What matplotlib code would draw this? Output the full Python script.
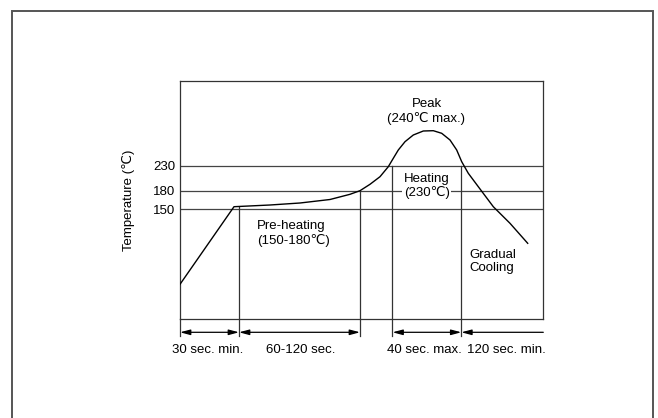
import matplotlib

matplotlib.use("Agg")
import matplotlib.pyplot as plt
from matplotlib.patches import Rectangle

plt.rcParams["font.family"] = ["Liberation Sans", "DejaVu Sans"]

# schematic reflow profile (arbitrary time / height units)
profile_t = [0, 54, 90, 120, 150, 170, 180, 190, 200, 208.3, 213.3, 218.3, 225,
             233.3, 243.3, 253.3, 261.7, 270, 276.7, 281.7, 288.3, 298.3, 313.3,
             330, 347.7]
profile_h = [35, 112.6, 114.3, 116.3, 119.8, 125, 128.6, 135, 142.6, 152.6, 161,
             169.3, 177.6, 184.3, 188.3, 188.6, 186, 179.3, 169.3, 157.6, 146,
             132.6, 112.6, 96, 76]

level_pos = [110.3, 128.6, 153.6]
level_labels = ["150", "180", "230"]

# phase boundaries: time and where the marker line starts
bound_t = [59, 180, 212.5, 281.3]
bound_h = [112.6, 128.6, 153.6, 153.6]

spans = [(0, 59), (59, 180), (212.5, 281.3), (281.3, 363.3)]
span_heads = ["<|-|>", "<|-|>", "<|-|>", "<|-"]
span_labels = ["30 sec. min.", "60-120 sec.", "40 sec. max.", "120 sec. min."]
span_label_x = [28, 121, 244, 326]

T_MAX, H_MAX = 363.3, 238.6
ARROW_Y, TICK_Y, LABEL_Y = -13, -17, -30.7
FS = 9.5

fig = plt.figure(figsize=(6.58, 4.18), dpi=100)
fig.patches.append(Rectangle((12 / 658, -0.05), 640.7 / 658, 1.05 - 11 / 418,
                             transform=fig.transFigure, fill=False,
                             edgecolor="#555555", linewidth=1.4))

ax = fig.add_axes([180 / 658, 98.7 / 418, T_MAX / 658, H_MAX / 418])
ax.set_xlim(0, T_MAX)
ax.set_ylim(0, H_MAX)

for y in level_pos:
    ax.axhline(y, color="#444444", lw=0.9, zorder=1)

ax.plot(profile_t, profile_h, color="black", lw=1.0, zorder=3)

for t, h in zip(bound_t, bound_h):
    ax.plot([t, t], [h, TICK_Y], color="#333333", lw=0.9, clip_on=False, zorder=2)
ax.plot([0, 0], [0, TICK_Y], color="#333333", lw=0.9, clip_on=False)

for (a, b), style, lab, lx in zip(spans, span_heads, span_labels, span_label_x):
    ax.annotate("", xy=(b, ARROW_Y), xytext=(a, ARROW_Y), annotation_clip=False,
                arrowprops=dict(arrowstyle=style + ",head_length=0.6,head_width=0.16",
                                color="black", lw=0.9, shrinkA=0, shrinkB=0))
    ax.text(lx, LABEL_Y, lab, ha="center", va="center", fontsize=FS, clip_on=False)

ax.text(246.5, 207.8, "Peak\n(240℃ max.)", ha="center", va="center",
        fontsize=FS, linespacing=1.15)
ax.text(246.7, 133.5, "Heating\n(230℃)", ha="center", va="center", fontsize=FS,
        linespacing=1.15, zorder=4,
        bbox=dict(facecolor="white", edgecolor="none", pad=1.0))
ax.text(76.7, 85.8, "Pre-heating\n(150-180℃)", ha="left", va="center",
        fontsize=FS, linespacing=1.15)
ax.text(289, 57.8, "Gradual\nCooling", ha="left", va="center",
        fontsize=FS, linespacing=1.15)

ax.set_xticks([])
ax.set_yticks(level_pos)
ax.set_yticklabels(level_labels, fontsize=FS)
ax.tick_params(axis="y", length=0, pad=3.5)
ax.set_ylabel("Temperature (℃)", fontsize=FS, labelpad=13)
for s in ax.spines.values():
    s.set_color("#333333")
    s.set_linewidth(0.9)

fig.savefig("out.png", dpi=100, facecolor="white")
